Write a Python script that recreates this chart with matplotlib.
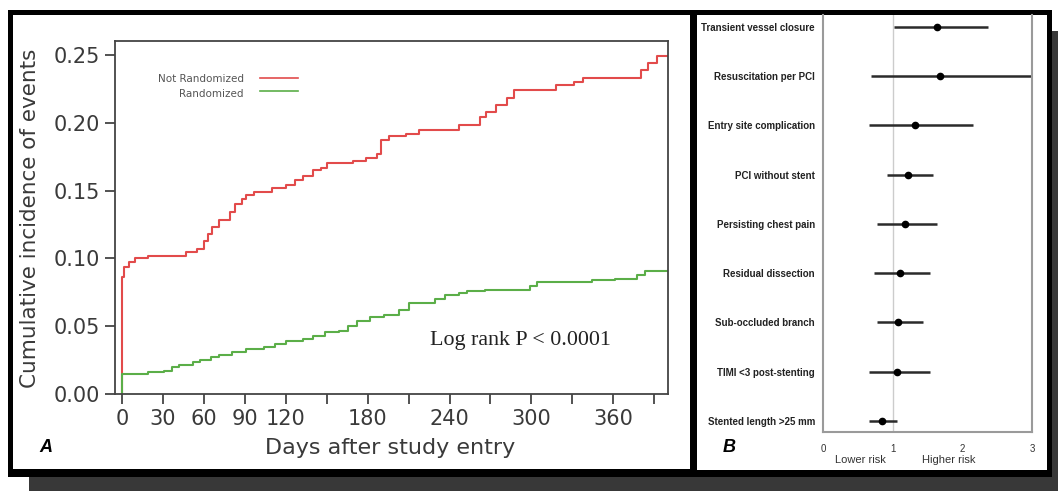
"""Two-panel figure: cumulative incidence by randomization status (A)
and a forest plot of procedural risk factors (B)."""
import matplotlib

matplotlib.use("Agg")
import matplotlib.pyplot as plt
from matplotlib.patches import Rectangle

W, H = 1058, 491  # canvas in pixels, dpi 100

# Panel A: step curves (days, cumulative incidence)
not_rand_days = [0, 0, 1.6, 5, 10, 19.5, 47, 55, 60, 63, 66, 71, 79, 83, 88, 91,
                 97, 110, 120, 127, 133, 140, 146, 150, 169, 179, 187, 190, 196,
                 208, 218, 247, 262, 267, 274, 282, 287, 318, 331, 338, 380, 385,
                 392, 400]
not_rand_inc = [0.0, 0.086, 0.094, 0.097, 0.100, 0.102, 0.105, 0.107, 0.113,
                0.118, 0.123, 0.128, 0.134, 0.140, 0.144, 0.147, 0.149, 0.152,
                0.154, 0.158, 0.161, 0.165, 0.167, 0.170, 0.172, 0.174, 0.177,
                0.187, 0.190, 0.192, 0.195, 0.198, 0.204, 0.208, 0.213, 0.218,
                0.224, 0.228, 0.230, 0.233, 0.239, 0.244, 0.249, 0.249]

rand_days = [0, 0, 19.5, 31, 37, 42, 52, 57, 65, 71, 81, 91, 104, 112, 120, 133,
             140, 149, 159, 166, 172, 182, 192, 203, 210, 229, 237, 247, 253,
             266, 299, 304, 344, 361, 377, 383, 400]
rand_inc = [0.0, 0.0148, 0.016, 0.0172, 0.0197, 0.0214, 0.0234, 0.025, 0.027,
            0.0288, 0.0308, 0.0333, 0.0345, 0.037, 0.039, 0.0406, 0.043, 0.0456,
            0.0468, 0.0505, 0.054, 0.0567, 0.058, 0.0616, 0.067, 0.070, 0.0727,
            0.0744, 0.0759, 0.0768, 0.080, 0.0825, 0.0837, 0.085, 0.0874,
            0.0906, 0.091]

day_ticks = list(range(0, 391, 30))
day_labels = ["0", "30", "60", "90", "120", "", "180", "", "240", "", "300", "",
              "360", ""]
inc_ticks = [0.0, 0.05, 0.10, 0.15, 0.20, 0.25]
inc_labels = ["0.00", "0.05", "0.10", "0.15", "0.20", "0.25"]

# Panel B: forest plot (top row first)
risk_labels = ["Transient vessel closure", "Resuscitation per PCI",
               "Entry site complication", "PCI without stent",
               "Persisting chest pain", "Residual dissection",
               "Sub-occluded branch", "TIMI <3 post-stenting",
               "Stented length >25 mm"]
risk_est = [1.63, 1.68, 1.32, 1.22, 1.18, 1.10, 1.07, 1.06, 0.84]
risk_lo = [1.02, 0.69, 0.66, 0.92, 0.78, 0.73, 0.78, 0.66, 0.66]
risk_hi = [2.37, 3.00, 2.15, 1.58, 1.63, 1.53, 1.43, 1.53, 1.06]
risk_ticks = [0, 1, 2, 3]

RED = "#e24b4b"
GREEN = "#5bae48"


def fx(x):
    return x / W


def fy(y):
    return 1 - y / H


def px_axes(fig, x0, y0, x1, y1):
    """Axes from pixel box (top-left origin)."""
    return fig.add_axes([fx(x0), fy(y1), (x1 - x0) / W, (y1 - y0) / H])


def px_rect(fig, x0, y0, x1, y1, color):
    fig.patches.append(Rectangle((fx(x0), fy(y1)), (x1 - x0) / W, (y1 - y0) / H,
                                 transform=fig.transFigure, color=color,
                                 zorder=-10, lw=0))


def main() -> None:
    fig = plt.figure(figsize=(W / 100, H / 100), dpi=100)
    fig.patch.set_facecolor("white")

    # frame, shadow and panel backgrounds
    px_rect(fig, 29, 477, 1058, 491, "#383838")
    px_rect(fig, 1051, 31, 1058, 491, "#383838")
    px_rect(fig, 8, 10, 1052, 477, "black")
    px_rect(fig, 13, 15, 690, 469, "white")
    px_rect(fig, 697, 15, 1047, 470, "white")

    # ---- panel A ----
    ax = px_axes(fig, 115, 41, 668, 394)
    ax.plot(not_rand_days, not_rand_inc, drawstyle="steps-post", color=RED,
            lw=1.5, label="Not Randomized")
    ax.plot(rand_days, rand_inc, drawstyle="steps-post", color=GREEN,
            lw=1.5, label="Randomized")
    ax.set_xlim(-5, 400)
    ax.set_ylim(0, 0.2603)
    ax.set_xticks(day_ticks, day_labels)
    ax.set_yticks(inc_ticks, inc_labels)
    for s in ax.spines.values():
        s.set_color("#444444")
        s.set_linewidth(1.3)
    ax.tick_params(length=7.5, width=1.3, color="#444444", labelcolor="#3a3a3a",
                   labelsize=15, pad=3)
    ax.set_facecolor("white")

    # hand-made legend, as in the original
    fig.text(fx(244), fy(79), "Not Randomized", ha="right", va="center",
             fontsize=7.5, color="#555555")
    fig.text(fx(244), fy(94), "Randomized", ha="right", va="center",
             fontsize=7.5, color="#555555")
    fig.lines.append(plt.Line2D([fx(260), fx(298)], [fy(78), fy(78)],
                                transform=fig.transFigure, color=RED, lw=1.2))
    fig.lines.append(plt.Line2D([fx(260), fx(298)], [fy(91), fy(91)],
                                transform=fig.transFigure, color=GREEN, lw=1.2))

    fig.text(fx(520), fy(340), "Log rank P < 0.0001", ha="center", va="center",
             fontsize=15.8, family="Liberation Serif", color="#222222")
    fig.text(fx(30), fy(218), "Cumulative incidence of events", rotation=90,
             ha="center", va="center", fontsize=15.5, color="#3a3a3a")
    fig.text(fx(390), fy(448), "Days after study entry", ha="center",
             va="center", fontsize=16, color="#3a3a3a")
    fig.text(fx(46), fy(447), "A", ha="center", va="center", fontsize=13,
             weight="bold", style="italic", family="Liberation Sans")

    # ---- panel B ----
    bx = px_axes(fig, 823, 15, 1032, 432)
    n = len(risk_labels)
    ypos = [n - i for i in range(n)]
    bx.axvline(1, color="#cccccc", lw=1, zorder=1)
    bx.hlines(ypos, risk_lo, risk_hi, color="#2b2b2b", lw=1.8, zorder=2,
              clip_on=False)
    bx.plot(risk_est, ypos, "o", color="black", ms=4.5, zorder=3)
    bx.set_xlim(0, 3)
    bx.set_ylim(1 - 11 / 49.3, n + 11.7 / 49.3)
    bx.set_xticks(risk_ticks, [str(t) for t in risk_ticks])
    bx.set_yticks(ypos, risk_labels)
    for lab in bx.get_yticklabels():
        lab.set_fontweight("bold")
        lab.set_family("Liberation Sans")
    bx.tick_params(axis="y", length=0, pad=5.8, labelsize=7, labelcolor="#222222")
    bx.tick_params(axis="x", length=0, pad=9, labelsize=7, labelcolor="#333333")
    for lab in bx.get_xticklabels():
        lab.set_family("Liberation Sans")
    bx.spines["top"].set_visible(False)
    for side in ("left", "right", "bottom"):
        bx.spines[side].set_color("#9a9a9a")
        bx.spines[side].set_linewidth(1.5)

    fig.text(fx(860), fy(460), "Lower risk", ha="center", va="center",
             fontsize=8, color="#333333", family="Liberation Sans")
    fig.text(fx(949), fy(460), "Higher risk", ha="center", va="center",
             fontsize=8, color="#333333", family="Liberation Sans")
    fig.text(fx(729), fy(447), "B", ha="center", va="center", fontsize=13,
             weight="bold", style="italic", family="Liberation Sans")

    fig.savefig("out.png", dpi=100)
    plt.close(fig)


if __name__ == "__main__":
    main()
